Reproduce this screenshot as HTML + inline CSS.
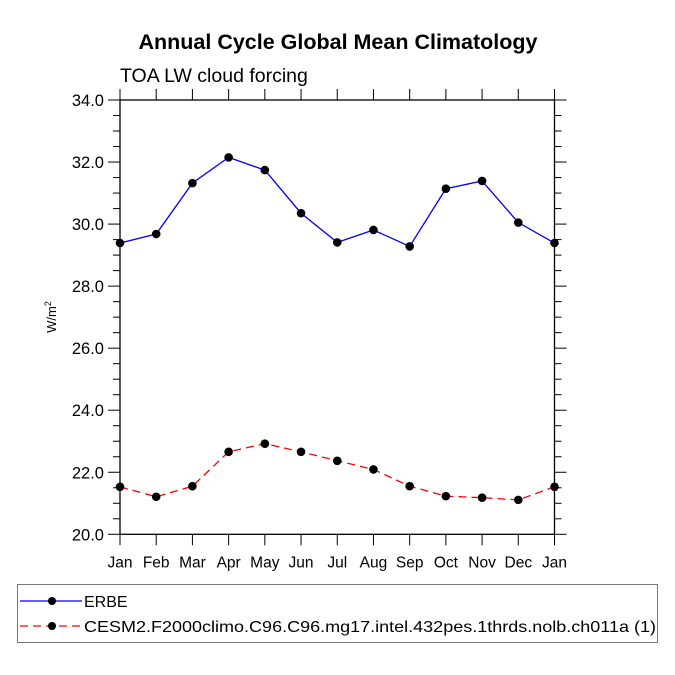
<!DOCTYPE html>
<html><head><meta charset="utf-8"><style>body{margin:0;background:#fff}svg{display:block;font-family:"Liberation Sans",sans-serif}</style></head>
<body>
<svg id="chart" width="675" height="675" viewBox="0 0 675 675" xmlns="http://www.w3.org/2000/svg">
<text x="338" y="49" text-anchor="middle" font-size="21.5" font-weight="bold">Annual Cycle Global Mean Climatology</text>
<text x="120" y="82" font-size="19.5">TOA LW cloud forcing</text>
<text transform="translate(56,317) rotate(-90)" text-anchor="middle" font-size="13">W/m<tspan dy="-5" font-size="9">2</tspan></text>
<g id="axes"></g>
<g id="series"></g>
<g>
<rect x="17.5" y="584.5" width="640" height="58" fill="none" stroke="#777" stroke-width="1"/>
<g>
<line x1="20" y1="601" x2="82" y2="601" stroke="#0000ff" stroke-width="1.3"/>
<circle cx="52" cy="601" r="4" fill="#000"/>
<text x="84" y="607" font-size="16">ERBE</text></g>
<g>
<line x1="20" y1="626" x2="82" y2="626" stroke="#ff0000" stroke-width="1.3" stroke-dasharray="8,5"/>
<circle cx="52" cy="626" r="4" fill="#000"/>
<text x="84" y="632" font-size="16" textLength="572" lengthAdjust="spacingAndGlyphs">CESM2.F2000climo.C96.C96.mg17.intel.432pes.1thrds.nolb.ch011a (1)</text></g>
</g>
</svg>
<script>
const months=["Jan","Feb","Mar","Apr","May","Jun","Jul","Aug","Sep","Oct","Nov","Dec","Jan"];
const erbe=[29.39,29.68,31.32,32.15,31.74,30.35,29.41,29.81,29.28,31.14,31.39,30.05,29.39];
const cesm=[21.53,21.21,21.55,22.66,22.92,22.66,22.37,22.09,21.55,21.23,21.18,21.11,21.53];
const yTicks=[20,22,24,26,28,30,32,34];
const yTickLabels=["20.0","22.0","24.0","26.0","28.0","30.0","32.0","34.0"];
const NS="http://www.w3.org/2000/svg";
const L=120,R=554.5,T=100,B=534.3,ymin=20,ymax=34;
const x=i=>L+(R-L)*i/(months.length-1);
const y=v=>B-(B-T)*(v-ymin)/(ymax-ymin);
function mk(t,a,p){const e=document.createElementNS(NS,t);for(const k in a)e.setAttribute(k,a[k]);p.appendChild(e);return e;}
const ax=document.getElementById('axes');
const fr=mk('rect',{x:L,y:T,width:R-L,height:B-T,fill:'none',stroke:'#000','stroke-width':1.3},ax);


for(let v=ymin;v<=ymax+1e-6;v+=0.5){
  const major=Math.abs(v-Math.round(v/2)*2)<1e-6;const len=major?12:7;const yy=y(v);
  mk('line',{x1:L-len,y1:yy,x2:L,y2:yy,stroke:'#000','stroke-width':1},ax);
  mk('line',{x1:R,y1:yy,x2:R+len,y2:yy,stroke:'#000','stroke-width':1},ax);
}
yTicks.forEach((v,i)=>{const t=mk('text',{x:L-16,y:y(v)+6,'text-anchor':'end','font-size':16.5},ax);t.textContent=yTickLabels[i];

});
months.forEach((m,i)=>{const xx=x(i);
  mk('line',{x1:xx,y1:B,x2:xx,y2:B+11,stroke:'#000','stroke-width':1},ax);
  mk('line',{x1:xx,y1:T-11,x2:xx,y2:T,stroke:'#000','stroke-width':1},ax);
  const t=mk('text',{x:xx,y:B+33,'text-anchor':'middle','font-size':15.5},ax);t.textContent=m;
  
  });
const sg=document.getElementById('series');
function series(data,color,dash,name){
  const g=mk('g',{},sg);
  
  
  const p=mk('polyline',{points:data.map((v,i)=>x(i)+','+y(v)).join(' '),fill:'none',stroke:color,'stroke-width':1.3,'stroke-dasharray':dash},g);
  
  
  data.forEach((v,i)=>{const c=mk('circle',{cx:x(i),cy:y(v),r:4.3,fill:'#000'},g);
    
    });
}
series(erbe,'#0000ff','none','erbe-series');
series(cesm,'#ff0000','8,5','cesm-series');
</script>
</body></html>
